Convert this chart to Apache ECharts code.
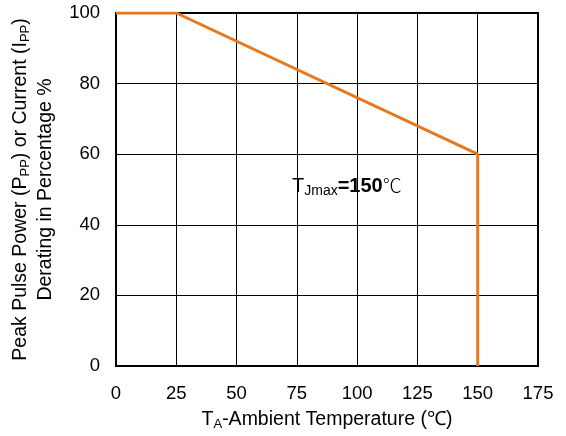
<!DOCTYPE html>
<html><head><meta charset="utf-8">
<script src="https://cdn.jsdelivr.net/npm/echarts@6/dist/echarts.min.js"></script>
<style>html,body{margin:0;padding:0;background:#fff}#c{width:566px;height:436px}</style>
</head><body><div id="c"></div>
<script>
const temperature = [0, 25, 150, 150];
const derating = [100, 100, 60, 0];
const xTicks = [0, 25, 50, 75, 100, 125, 150, 175];
const yTicks = [0, 20, 40, 60, 80, 100];

const chart = echarts.init(document.getElementById('c'));
const font = 'Liberation Sans, Arial, sans-serif';
const richY = {
  a: { fontSize: 19.5, fontFamily: font, color: '#000', lineHeight: 25 },
  s: { fontSize: 13, fontFamily: font, color: '#000', lineHeight: 25, padding: [10, 0, 0, 0] }
};
const richX = {
  a: { fontSize: 19.5, fontFamily: font, color: '#000', lineHeight: 26 },
  s: { fontSize: 13, fontFamily: font, color: '#000', lineHeight: 26, padding: [10, 0, 0, 0] }
};
chart.setOption({
  animation: false,
  grid: { left: 116, right: 28, top: 13, bottom: 70, show: true, borderColor: '#000', borderWidth: 2, z: 3 },
  xAxis: {
    type: 'value', min: 0, max: 175, interval: 25,
    axisLine: { show: false }, axisTick: { show: false },
    splitLine: { show: true, lineStyle: { color: '#000', width: 1 } },
    axisLabel: { fontSize: 18.5, fontFamily: font, color: '#000', margin: 18,
      formatter: v => xTicks.includes(v) ? String(v) : '' },
    name: '{a|T}{s|A}{a|-Ambient Temperature (℃)}',
    nameLocation: 'middle', nameGap: 37,
    nameTextStyle: { rich: richX }
  },
  yAxis: {
    type: 'value', min: 0, max: 100, interval: 20,
    axisLine: { show: false }, axisTick: { show: false },
    splitLine: { show: true, lineStyle: { color: '#000', width: 1 } },
    axisLabel: { fontSize: 18.5, fontFamily: font, color: '#000', margin: 16,
      formatter: v => yTicks.includes(v) ? String(v) : '' },
    name: '{a|Peak Pulse Power (P}{s|PP}{a|) or Current (I}{s|PP}{a|)}\n{a|Derating in Percentage %}',
    nameLocation: 'middle', nameGap: 58,
    nameTextStyle: { rich: richY, align: 'center' }
  },
  series: [{
    type: 'line',
    data: temperature.map((t, i) => [t, derating[i]]),
    showSymbol: false,
    lineStyle: { color: '#E8771E', width: 3 },
    z: 5
  }],
  graphic: [{
    type: 'text', left: 292, top: 174, z: 10,
    style: {
      text: '{t|T}{j|Jmax}{e|=150}{c|℃}',
      rich: {
        t: { fontSize: 20, fontFamily: font, fill: '#000', lineHeight: 28 },
        j: { fontSize: 14, fontFamily: font, fill: '#000', lineHeight: 28, padding: [10, 0, 0, 0] },
        e: { fontSize: 20, fontFamily: font, fontWeight: 'bold', fill: '#000', lineHeight: 28 },
        c: { fontSize: 19, fontFamily: 'Noto Sans CJK SC', fontWeight: 300, fill: '#000', lineHeight: 28 }
      }
    }
  }]
});
</script></body></html>
